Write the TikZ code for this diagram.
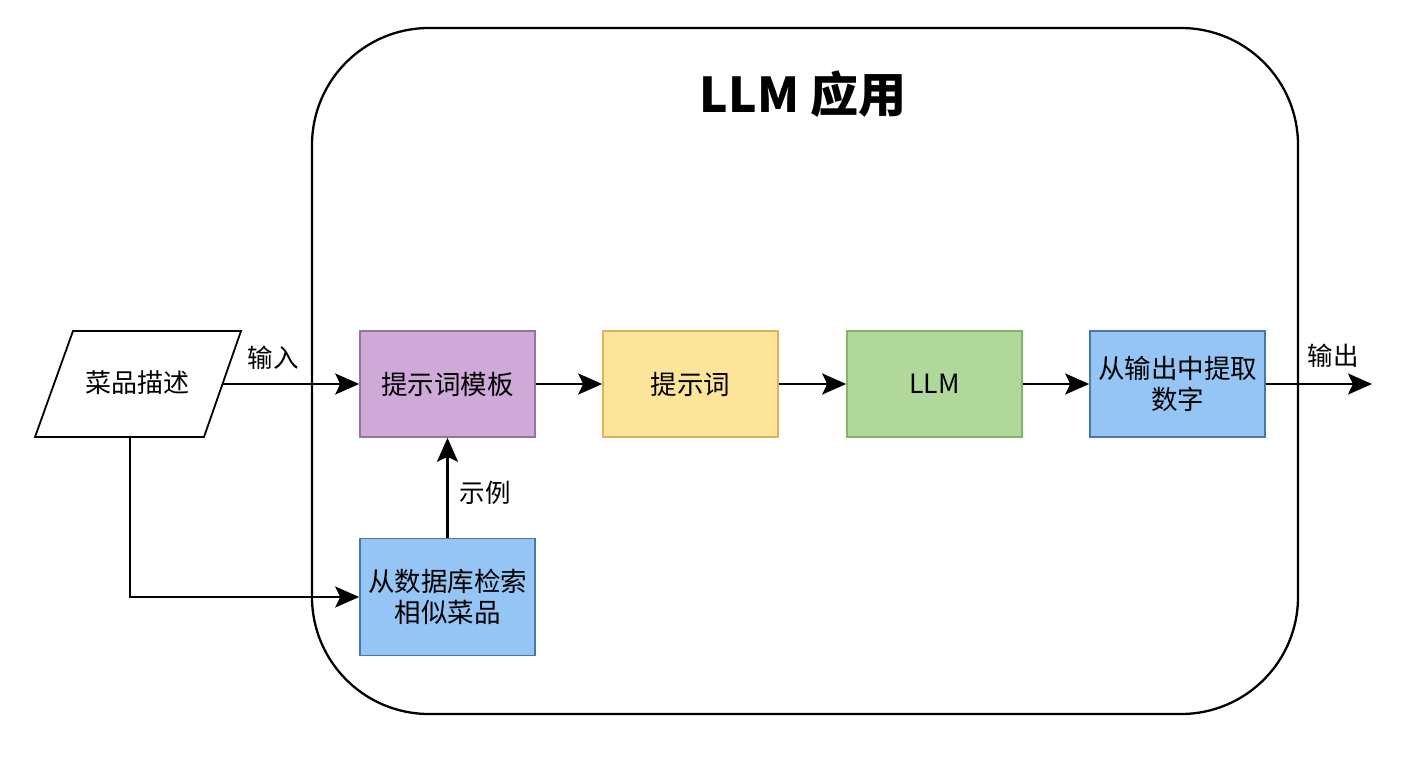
\documentclass[tikz,border=0pt]{standalone}
\usepackage{fontspec}
\setmainfont{Noto Sans CJK SC}
\usetikzlibrary{arrows.meta,shapes.geometric}
\definecolor{pfill}{HTML}{CFA9D8}
\definecolor{pline}{HTML}{9673A6}
\definecolor{yfill}{HTML}{FCE49B}
\definecolor{yline}{HTML}{D6B656}
\definecolor{gfill}{HTML}{B1D89B}
\definecolor{gline}{HTML}{82B366}
\definecolor{bfill}{HTML}{94C5F5}
\definecolor{bline}{HTML}{4A78AA}
\tikzset{
  stepbox/.style={draw, line width=1.6pt, minimum width=175pt, minimum height=106pt, inner sep=0pt, align=center, font=\fontsize{26.5}{31}\selectfont},
  conn/.style={line width=2.2pt, -{Stealth[length=24pt,width=21pt,inset=5pt]}},
  lbl/.style={font=\fontsize{25.5}{30}\selectfont, inner sep=0pt}
}
\begin{document}
\begin{tikzpicture}[x=1pt,y=-1pt]
\useasboundingbox (0,0) rectangle (1408,768);
\fill[white] (0,0) rectangle (1408,768);
% container
\node[draw, line width=2.3pt, rounded corners=117pt, minimum width=986pt, minimum height=686pt, inner sep=0pt] (app) at (805,371) {};
\node[font=\fontsize{48}{54}\selectfont\bfseries] (title) at (803,94) {LLM 应用};
% input parallelogram
\coordinate (ptl) at (73,331);
\coordinate (ptr) at (241,331);
\coordinate (pbr) at (204,437);
\coordinate (pbl) at (35,437);
\draw[line width=1.8pt, fill=white] (ptl) -- (ptr) -- (pbr) -- (pbl) -- cycle;
\node[font=\fontsize{26}{30}\selectfont] (desc) at (137,383) {菜品描述};
\coordinate (descR) at (222,384);
\coordinate (descB) at (130,437);
% boxes
\node[stepbox, fill=pfill, draw=pline] (tmpl) at (447.5,384) {提示词模板};
\node[stepbox, fill=yfill, draw=yline] (prompt) at (690.5,384) {提示词};
\node[stepbox, fill=gfill, draw=gline] (llm) at (934.5,384) {LLM};
\node[stepbox, fill=bfill, draw=bline] (extract) at (1177.5,384) {从输出中提取\\数字};
\node[stepbox, fill=bfill, draw=bline, minimum height=117pt] (retr) at (447.5,597) {从数据库检索\\相似菜品};
\coordinate (outend) at (1372,384);
% connectors
\draw[conn] (descR) -- (tmpl.west);
\draw[conn] (tmpl) -- (prompt);
\draw[conn] (prompt) -- (llm);
\draw[conn] (llm) -- (extract);
\draw[conn] (extract) -- (outend);
\draw[conn] (retr) -- (tmpl);
\draw[conn] (descB) |- (retr.west);
% labels
\node[lbl] (lin) at (273,358) {输入};
\node[lbl] (lout) at (1333,356) {输出};
\node[lbl] (lex) at (485,493) {示例};
\end{tikzpicture}
\end{document}
